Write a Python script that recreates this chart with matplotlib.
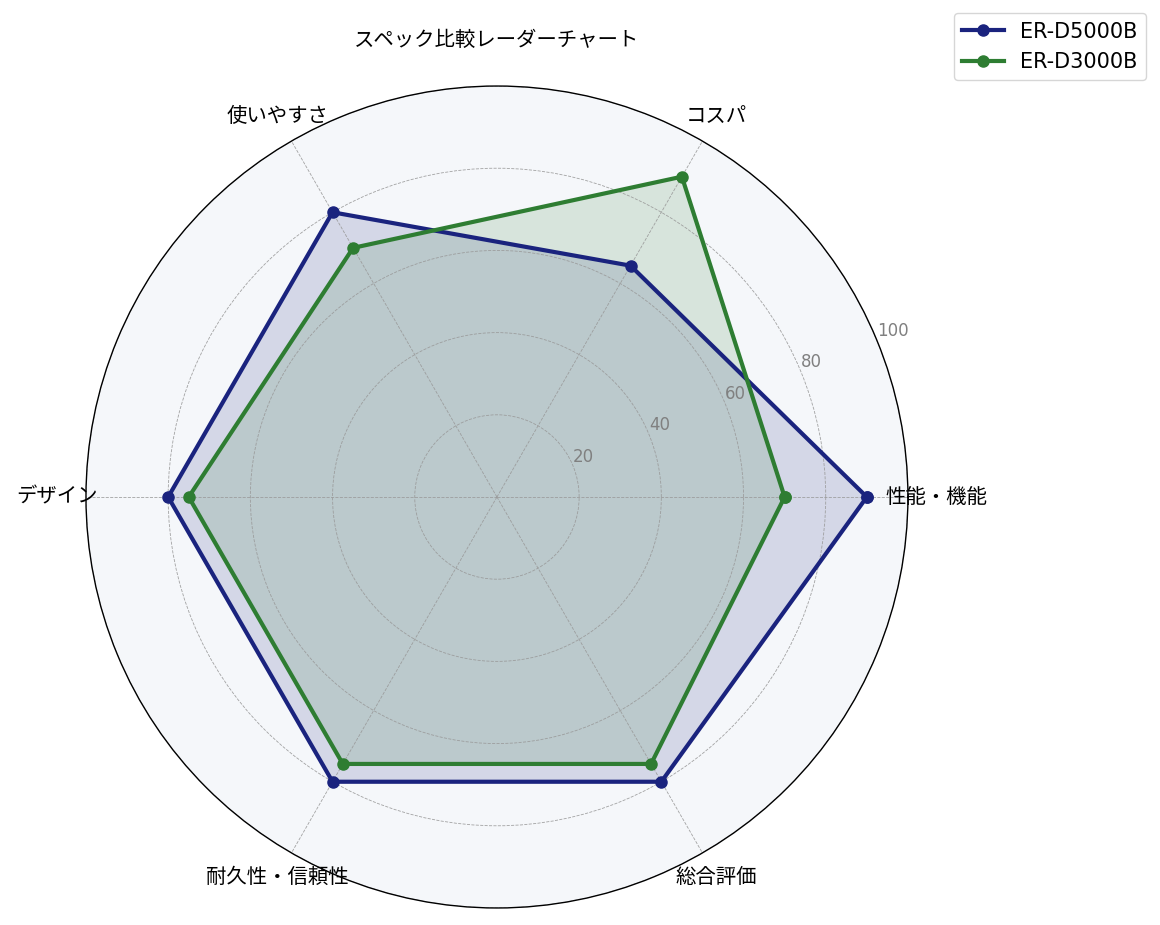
import numpy as np
import matplotlib
matplotlib.use("Agg")
import matplotlib.pyplot as plt

plt.rcParams['font.family'] = ['DejaVu Sans', 'Noto Sans CJK JP']
CJK = ['Noto Sans CJK JP', 'DejaVu Sans']

categories = ['性能・機能', 'コスパ', '使いやすさ', 'デザイン', '耐久性・信頼性', '総合評価']
series_names = ['ER-D5000B', 'ER-D3000B']
d5000 = [90, 65, 80, 80, 80, 80]
d3000 = [70, 90, 70, 75, 75, 75]
r_ticks = [20, 40, 60, 80, 100]
colors = ['#1a237e', '#2e7d32']

n = len(categories)
angles = np.linspace(0, 2 * np.pi, n, endpoint=False)
angles_c = np.concatenate([angles, angles[:1]])

fig = plt.figure(figsize=(11.6, 9.25), dpi=100)
ax = fig.add_axes([0.0741, 0.0184, 0.7086, 0.8886], projection='polar')
ax.set_facecolor('#f5f7fa')

for name, vals, c in zip(series_names, [d5000, d3000], colors):
    v = np.concatenate([vals, vals[:1]])
    ax.plot(angles_c, v, color=c, linewidth=3, marker='o', markersize=8, label=name)
    ax.fill(angles_c, v, color=c, alpha=0.15)

ax.set_ylim(0, 100)
ax.set_yticks(r_ticks)
ax.set_yticklabels([str(t) for t in r_ticks], color='#808080', fontsize=12)
ax.set_rlabel_position(22.5)
ax.set_xticks(angles)
ax.set_xticklabels(categories, fontsize=14.7, family=CJK)
ax.tick_params(axis='x', pad=10)
ax.grid(True, color='#999999', linestyle='--', linewidth=0.6, alpha=0.9)
ax.spines['polar'].set_color('black')
ax.spines['polar'].set_linewidth(1)

fig.text(0.428, 0.956, 'スペック比較レーダーチャート', ha='center', va='center',
         fontsize=14.7, family=CJK)
fig.legend(loc='upper right', bbox_to_anchor=(0.997, 0.997), fontsize=15)

fig.savefig('out.png', dpi=100)
